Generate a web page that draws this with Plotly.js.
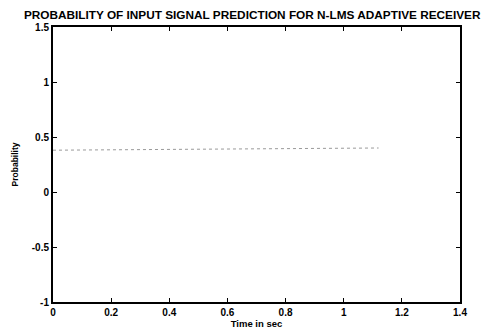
<!DOCTYPE html>
<html>
<head>
<meta charset="utf-8">
<script src="https://cdn.plot.ly/plotly-3.0.1.min.js"></script>
<style>html,body{margin:0;padding:0;background:#fff;}#chart{width:485px;height:331px;}</style>
</head>
<body>
<div id="chart"></div>
<script>
const timeSec = [0, 0.1, 0.2, 0.3, 0.4, 0.5, 0.6, 0.7, 0.8, 0.9, 1.0, 1.12];
const probability = [0.38, 0.382, 0.385, 0.387, 0.389, 0.39, 0.391, 0.393, 0.395, 0.397, 0.398, 0.40];
const xTicks = [0, 0.2, 0.4, 0.6, 0.8, 1, 1.2, 1.4];
const xTickText = ['0', '0.2', '0.4', '0.6', '0.8', '1', '1.2', '1.4'];
const yTicks = [-1, -0.5, 0, 0.5, 1, 1.5];
const yTickText = ['-1', '-0.5', '0', '0.5', '1', '1.5'];

const fontFam = 'Liberation Sans, Arial, sans-serif';
const trace = {
  x: timeSec, y: probability, type: 'scatter', mode: 'lines',
  line: {color: '#9a9a9a', width: 1, dash: 'dot'}, hoverinfo: 'skip'
};
const layout = {
  width: 485, height: 331,
  margin: {l: 53, r: 25, t: 27, b: 29},
  paper_bgcolor: '#fff', plot_bgcolor: '#fff',
  showlegend: false,
  title: {text: '<b>PROBABILITY OF INPUT SIGNAL PREDICTION FOR N-LMS ADAPTIVE RECEIVER</b>',
    font: {family: fontFam, size: 11.8, color: '#000'}, x: 0.52, xanchor: 'center', y: 0.955, yanchor: 'middle'},
  xaxis: {range: [0, 1.4], tickvals: xTicks, ticktext: xTickText, ticks: 'inside', ticklen: 4,
    tickcolor: '#000', showline: true, linecolor: '#000', linewidth: 2, mirror: 'ticks', showgrid: false,
    zeroline: false, tickfont: {family: fontFam, size: 10, color: '#000', weight: 'bold'},
    title: {text: '<b>Time in sec</b>', font: {family: fontFam, size: 9.5, color: '#000'}, standoff: 1}},
  yaxis: {range: [-1, 1.5], tickvals: yTicks, ticktext: yTickText, ticks: 'inside', ticklen: 4,
    tickcolor: '#000', showline: true, linecolor: '#000', linewidth: 2, mirror: 'ticks', showgrid: false,
    zeroline: false, tickfont: {family: fontFam, size: 10, color: '#000', weight: 'bold'},
    title: {text: '<b>Probability</b>', font: {family: fontFam, size: 8.5, color: '#000'}, standoff: 12}}
};
Plotly.newPlot('chart', [trace], layout, {staticPlot: true, displayModeBar: false});
</script>
</body>
</html>
